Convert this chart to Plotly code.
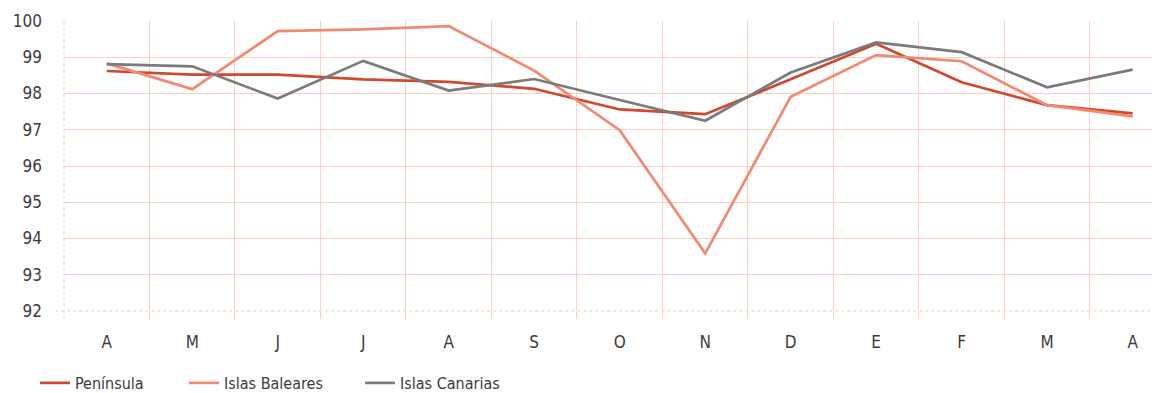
import plotly.graph_objects as go

months = ["A", "M", "J", "J", "A", "S", "O", "N", "D", "E", "F", "M", "A"]
peninsula = [98.62, 98.52, 98.52, 98.39, 98.32, 98.13, 97.56, 97.43, 98.39, 99.37, 98.31, 97.68, 97.45]
baleares = [98.83, 98.12, 99.72, 99.77, 99.86, 98.63, 96.99, 93.59, 97.91, 99.06, 98.89, 97.68, 97.37]
canarias = [98.81, 98.75, 97.86, 98.90, 98.08, 98.40, 97.82, 97.25, 98.58, 99.41, 99.14, 98.17, 98.66]
y_ticks = [92, 93, 94, 95, 96, 97, 98, 99, 100]

FONT = "Noto Sans Condensed Light, Noto Sans Condensed, DejaVu Sans Condensed, sans-serif"
TXT = "#3c3c3c"
idx = list(range(len(months)))
X_RANGE = [-0.5, 12.32]
Y_RANGE = [92, 100]

fig = go.Figure()
series = [
    ("Península", peninsula, "#d2472f", "legend", 0.0234),
    ("Islas Baleares", baleares, "#f28a72", "legend2", 0.1528),
    ("Islas Canarias", canarias, "#7b7b7b", "legend3", 0.3056),
]
legends = {}
for name, vals, col, lg, lx in series:
    fig.add_trace(go.Scatter(x=idx, y=vals, mode="lines", name=name, legend=lg,
                             line=dict(color=col, width=2.7)))
    legends[lg] = dict(orientation="h", x=lx, xref="container", xanchor="left",
                       y=0.026, yref="container", yanchor="middle",
                       font=dict(family=FONT, size=16, color=TXT),
                       bgcolor="rgba(0,0,0,0)", borderwidth=0)

grid = "#fbcfc1"
grid_dot = "#fcdcd2"
fig.update_layout(
    width=1152, height=385,
    margin=dict(l=56, r=0, t=13, b=82, autoexpand=False),
    paper_bgcolor="white", plot_bgcolor="white",
    font=dict(family=FONT, size=17, color=TXT),
    showlegend=True,
    xaxis=dict(
        tickmode="array", tickvals=idx, ticktext=months, automargin=False,
        range=X_RANGE, showgrid=False, zeroline=False,
        showline=False, ticks="", ticklabelstandoff=19,
        minor=dict(tickmode="array", tickvals=[i + 0.5 for i in range(13)],
                   showgrid=True, gridcolor=grid, gridwidth=1.3,
                   ticks="outside", ticklen=7, tickcolor=grid),
    ),
    yaxis=dict(
        range=Y_RANGE, tickvals=y_ticks, showgrid=False,
        zeroline=False, showline=False, ticks="", ticklabelstandoff=21, automargin=False,
        minor=dict(tickmode="array", tickvals=y_ticks[1:], showgrid=True,
                   gridcolor=grid, gridwidth=1.3),
    ),
    shapes=[
        # dotted baseline and dotted left border of the plotting area
        dict(type="line", xref="paper", yref="paper", x0=-0.008, x1=1, y0=0, y1=0,
             line=dict(color=grid_dot, width=1.5, dash="dot"), layer="below"),
        dict(type="line", xref="paper", yref="paper", x0=0, x1=0, y0=-0.026, y1=1,
             line=dict(color=grid_dot, width=1.5, dash="dot"), layer="below"),
    ],
    **legends,
)

fig.write_html("out.html")
